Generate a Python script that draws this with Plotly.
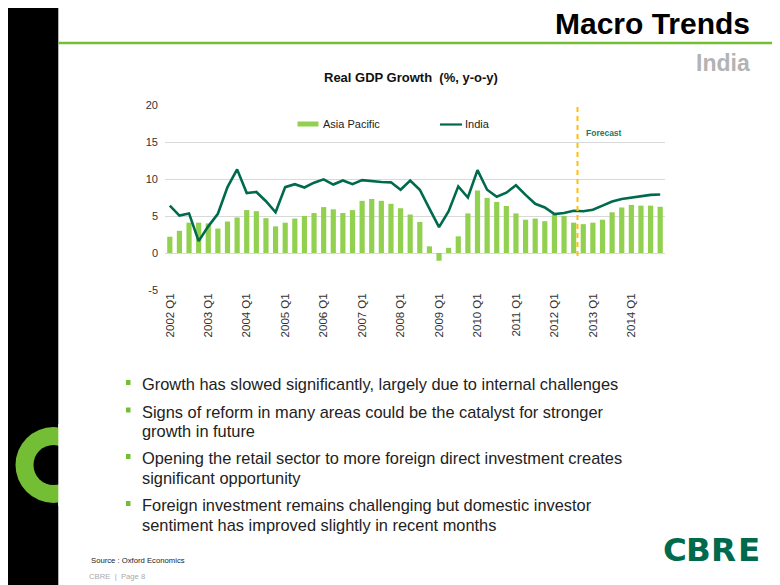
import plotly.graph_objects as go

# the page adds an 8px body margin, so the figure covers 772x577 of the 780x585 window
OFF = 8
W, H = 780 - OFF, 585 - OFF

# ---------------- data ----------------
years = ["2002", "2003", "2004", "2005", "2006", "2007", "2008",
         "2009", "2010", "2011", "2012", "2013", "2014"]
quarters = [f"{y} Q{q}" for y in years for q in (1, 2, 3, 4)]
tick_labels = [f"{y} Q1" for y in years]
y_ticks = [-5, 0, 5, 10, 15, 20]
y_tick_text = ["-5", "0", "5", "10", "15", "20"]

asia_pacific = [2.2, 3.0, 4.1, 4.1, 4.0, 3.3, 4.25, 4.8, 5.8, 5.65, 4.7, 3.6,
                4.1, 4.65, 5.0, 5.4, 6.2, 5.9, 5.4, 5.8, 7.05, 7.3, 7.05, 6.65,
                6.05, 5.2, 4.2, 0.9, -1.05, 0.7, 2.25, 5.35, 8.45, 7.45, 6.9, 6.35,
                5.35, 4.5, 4.65, 4.3, 5.2, 5.0, 4.1, 3.9, 4.1, 4.5, 5.5, 6.15,
                6.5, 6.4, 6.4, 6.25]
india = [6.4, 5.05, 5.35, 1.6, 3.6, 5.3, 8.9, 11.3, 8.1, 8.25, 7.0, 5.5,
         8.9, 9.3, 8.85, 9.5, 9.95, 9.25, 9.8, 9.3, 9.85, 9.7, 9.6, 9.55,
         8.55, 9.8, 8.55, 6.0, 3.5, 5.65, 9.0, 7.5, 11.2, 8.55, 7.6, 8.15,
         9.15, 7.85, 6.65, 6.15, 5.25, 5.4, 5.7, 5.65, 5.85, 6.4, 6.95, 7.3,
         7.5, 7.7, 7.85, 7.9]
forecast_start = 42.4  # category position between 2012 Q3 and 2012 Q4

series_names = ["Asia Pacific", "India"]
chart_title = "Real GDP Growth  (%, y-o-y)"
page_title = "Macro Trends"
page_subtitle = "India"
bullets = [
    ["Growth has slowed significantly, largely due to internal challenges"],
    ["Signs of reform in many areas could be the catalyst for stronger",
     "growth in future"],
    ["Opening the retail sector to more foreign direct investment creates",
     "significant opportunity"],
    ["Foreign investment remains challenging but domestic investor",
     "sentiment has improved slightly in recent months"],
]
source_text = "Source : Oxford Economics"
footer_text = "CBRE  |  Page 8"

# ---------------- styles ----------------
FONT = "Liberation Sans, Arial, sans-serif"
BAR_GREEN = "#92D050"
LINE_GREEN = "#006A4D"
BRIGHT_GREEN = "#74BE35"
ORANGE = "#FFC000"


def px(x):
    """window pixel x -> paper fraction"""
    return (x - OFF) / W


def py(y):
    """window pixel y -> paper fraction"""
    return 1 - (y - OFF) / H


fig = go.Figure()
fig.add_trace(go.Bar(x=quarters, y=asia_pacific, name=series_names[0],
                     marker=dict(color=BAR_GREEN, line=dict(width=0)),
                     showlegend=False))
fig.add_trace(go.Scatter(x=quarters, y=india, name=series_names[1], mode="lines",
                         line=dict(color=LINE_GREEN, width=2.6),
                         showlegend=False))

shapes = []
annotations = []

# left black band and green "C"
shapes.append(dict(type="rect", xref="paper", yref="paper", x0=px(0), x1=px(58.3),
                   y0=py(600), y1=py(0), fillcolor="black", line=dict(width=0),
                   layer="below"))
shapes.append(dict(type="circle", xref="paper", yref="paper",
                   x0=px(15.5), x1=px(91.5), y0=py(503), y1=py(427),
                   fillcolor=BRIGHT_GREEN, line=dict(width=0), layer="below"))
shapes.append(dict(type="circle", xref="paper", yref="paper",
                   x0=px(33.5), x1=px(73.5), y0=py(485), y1=py(445),
                   fillcolor="black", line=dict(width=0), layer="below"))
shapes.append(dict(type="rect", xref="paper", yref="paper",
                   x0=px(58.3), x1=px(95), y0=py(506), y1=py(424),
                   fillcolor="white", line=dict(width=0), layer="below"))
# green rule under header
shapes.append(dict(type="line", xref="paper", yref="paper",
                   x0=px(58.3), x1=1, y0=py(43), y1=py(43),
                   line=dict(color=BRIGHT_GREEN, width=2.5), layer="below"))

# forecast line
shapes.append(dict(type="line", xref="x", yref="y",
                   x0=forecast_start, x1=forecast_start, y0=-0.4, y1=20,
                   line=dict(color=ORANGE, width=2, dash="5px,4px")))
annotations.append(dict(text="<b>Forecast</b>", xref="paper", yref="paper",
                        x=px(584), y=py(133), xanchor="left", yanchor="middle",
                        showarrow=False,
                        font=dict(family=FONT, size=8.5, color="#1F7A5A")))

# custom legend
shapes.append(dict(type="rect", xref="paper", yref="paper",
                   x0=px(297.5), x1=px(318.5), y0=py(126.5), y1=py(121.5),
                   fillcolor=BAR_GREEN, line=dict(width=0)))
annotations.append(dict(text=series_names[0], xref="paper", yref="paper",
                        x=px(320.5), y=py(124.5), xanchor="left", yanchor="middle",
                        showarrow=False, font=dict(family=FONT, size=11, color="#222")))
shapes.append(dict(type="line", xref="paper", yref="paper",
                   x0=px(440), x1=px(462), y0=py(124.5), y1=py(124.5),
                   line=dict(color=LINE_GREEN, width=2.2)))
annotations.append(dict(text=series_names[1], xref="paper", yref="paper",
                        x=px(463), y=py(124.5), xanchor="left", yanchor="middle",
                        showarrow=False, font=dict(family=FONT, size=11, color="#222")))

# titles
annotations.append(dict(text=f"<b>{page_title}</b>", xref="paper", yref="paper",
                        x=px(752), y=py(23), xanchor="right", yanchor="middle",
                        showarrow=False, font=dict(family=FONT, size=30, color="black")))
annotations.append(dict(text=f"<b>{page_subtitle}</b>", xref="paper", yref="paper",
                        x=px(752), y=py(63), xanchor="right", yanchor="middle",
                        showarrow=False, font=dict(family=FONT, size=23, color="#B3B3B3")))
annotations.append(dict(text=f"<b>{chart_title}</b>", xref="paper", yref="paper",
                        x=px(411), y=py(77), xanchor="center", yanchor="middle",
                        showarrow=False, font=dict(family=FONT, size=13, color="#111")))

# bullets
line_ys = [[384], [411.5, 431], [458, 477.5], [505, 524.5]]
for lines, ys in zip(bullets, line_ys):
    shapes.append(dict(type="rect", xref="paper", yref="paper",
                       x0=px(126), x1=px(130.5), y0=py(ys[0] + 1), y1=py(ys[0] - 4),
                       fillcolor=BRIGHT_GREEN, line=dict(width=0)))
    for t, yy in zip(lines, ys):
        annotations.append(dict(text=t, xref="paper", yref="paper",
                                x=px(140), y=py(yy), xanchor="left", yanchor="middle",
                                showarrow=False,
                                font=dict(family=FONT, size=16.4, color="#222")))

# footer
annotations.append(dict(text=source_text, xref="paper", yref="paper",
                        x=px(89), y=py(560), xanchor="left", yanchor="middle",
                        showarrow=False, font=dict(family=FONT, size=7.7, color="#222")))
annotations.append(dict(text=footer_text, xref="paper", yref="paper",
                        x=px(87), y=py(576), xanchor="left", yanchor="middle",
                        showarrow=False, font=dict(family=FONT, size=7.7, color="#AAAAAA")))

# CBRE logo letters
for letter, cx in zip("CBRE", [674.5, 698.5, 723.5, 748.5]):
    annotations.append(dict(text=f"<b>{letter}</b>", xref="paper", yref="paper",
                            x=px(cx), y=py(550), xanchor="center", yanchor="middle",
                            showarrow=False,
                            font=dict(family="DejaVu Sans, sans-serif", size=32.5,
                                      color=LINE_GREEN)))

fig.update_layout(
    width=W, height=H, autosize=False,
    margin=dict(l=0, r=0, t=0, b=0, pad=0),
    paper_bgcolor="white", plot_bgcolor="white",
    template="none",
    bargap=0.46,
    showlegend=False,
    shapes=shapes, annotations=annotations,
    font=dict(family=FONT, color="#333"),
    xaxis=dict(domain=[px(165), px(665)], type="category",
               categoryorder="array", categoryarray=quarters,
               tickmode="array", tickvals=tick_labels, ticktext=tick_labels,
               tickangle=-90, showgrid=False, zeroline=False, showline=False,
               ticks="", automargin=False,
               tickfont=dict(family=FONT, size=11.5, color="#333")),
    yaxis=dict(domain=[py(290), py(105)], range=[-5, 20],
               tickmode="array", tickvals=y_ticks, ticktext=y_tick_text,
               showgrid=True, gridcolor="#D9D9D9", gridwidth=1,
               zeroline=False, showline=False, ticks="", automargin=False,
               ticklabelstandoff=6,
               tickfont=dict(family=FONT, size=11, color="#333")),
)

fig.write_html("out.html")
